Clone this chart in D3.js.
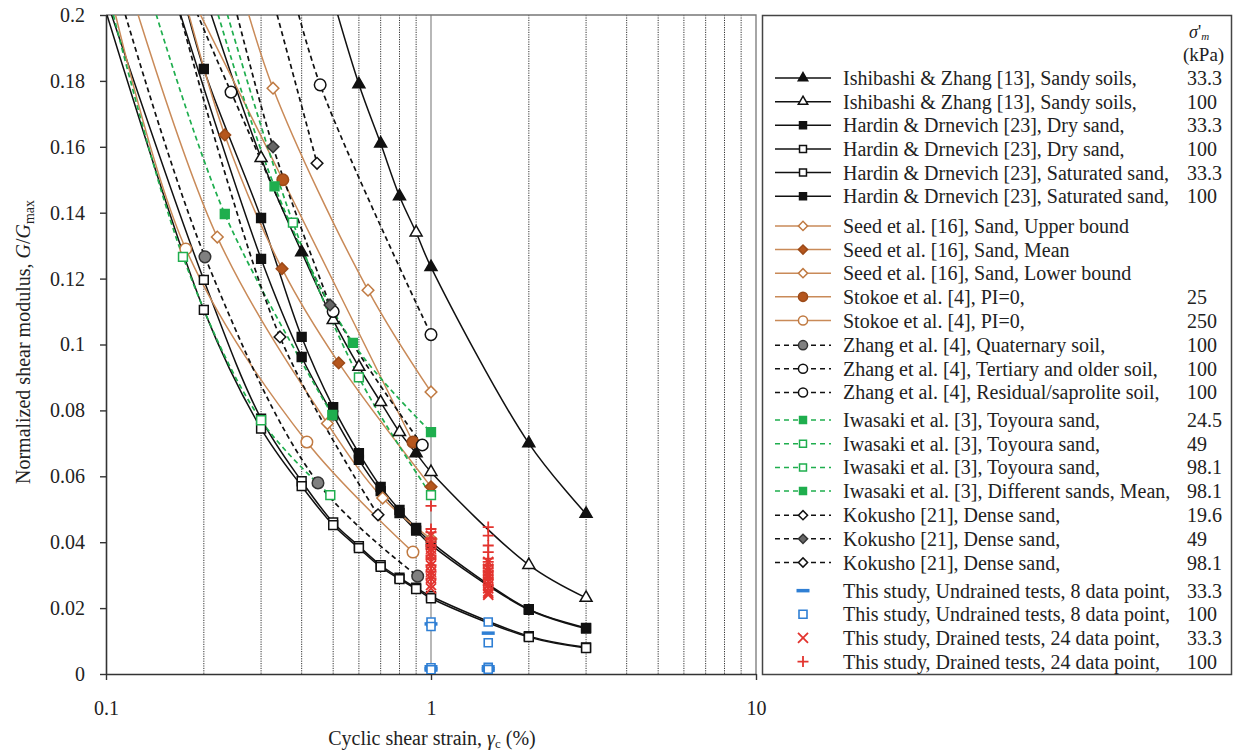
<!DOCTYPE html>
<html><head><meta charset="utf-8">
<script src="https://cdn.jsdelivr.net/npm/d3@7"></script>
<style>
body{margin:0;background:#fff}
svg{display:block}
text{font-family:"Liberation Serif","Times New Roman",serif;fill:#222}
</style>
</head><body>
<svg id="c" width="1234" height="753"></svg>
<script>
// ---------------- DATA (strain %, G/Gmax) ----------------
const ishi33X=[0.467,0.6,0.7,0.8,0.9,1,2,3];
const ishi33G=[0.215,0.179,0.161,0.145,0.134,0.1235,0.070,0.0486];
const ishi33Toggle=[0.9];
const ishi100X=[0.188,0.3,0.4,0.5,0.6,0.7,0.8,0.9,1,2,3];
const ishi100G=[0.215,0.1566,0.128,0.1074,0.0932,0.0825,0.0734,0.067,0.0613,0.0331,0.0231];
const ishi100Toggle=[0.4,0.9];
const hdDry33X=[0.164,0.2,0.3,0.4,0.5,0.6,0.7,0.8,0.9,1,2,3];
const hdDry33G=[0.215,0.1836,0.1384,0.1023,0.081,0.067,0.0568,0.0498,0.0443,0.040,0.0197,0.014];
const hdDry100X=[0.0925,0.2,0.3,0.4,0.5,0.6,0.7,0.8,0.9,1,2,3];
const hdDry100G=[0.215,0.1196,0.0775,0.0585,0.046,0.0388,0.033,0.0292,0.0262,0.0236,0.0115,0.0081];
const hdSat33X=[0.0906,0.2,0.3,0.4,0.5,0.6,0.7,0.8,0.9,1,2,3];
const hdSat33G=[0.215,0.1105,0.0745,0.057,0.0452,0.0382,0.0325,0.0288,0.0258,0.023,0.0112,0.0079];
const hdSat100X=[0.152,0.3,0.4,0.5,0.6,0.7,0.8,0.9,1,2,3];
const hdSat100G=[0.215,0.126,0.0962,0.0785,0.065,0.0555,0.0488,0.0435,0.0392,0.0195,0.0138];
const seedUX=[0.249,0.3265,0.64,1];
const seedUG=[0.215,0.1778,0.1165,0.0856];
const seedMX=[0.164,0.232,0.348,0.52,1];
const seedMG=[0.215,0.1636,0.123,0.0944,0.0568];
const seedLX=[0.1128,0.22,0.48,0.71,1];
const seedLG=[0.215,0.1326,0.076,0.0534,0.041];
const stokoe25X=[0.164,0.35,0.88];
const stokoe25G=[0.215,0.150,0.0704];
const stokoe250X=[0.0986,0.176,0.415,0.88];
const stokoe250G=[0.215,0.129,0.0704,0.037];
const zhangQX=[0.1036,0.2016,0.449,0.91];
const zhangQG=[0.215,0.1266,0.058,0.0297];
const zhangTX=[0.1654,0.2425,0.5,0.94];
const zhangTG=[0.215,0.1766,0.110,0.0695];
const zhangRX=[0.358,0.456,1];
const zhangRG=[0.215,0.1788,0.103];
const iwa245X=[0.1286,0.232,0.497];
const iwa245G=[0.215,0.1396,0.0786];
const iwa49X=[0.0965,0.1725,0.3,0.49];
const iwa49G=[0.215,0.1266,0.077,0.0543];
const iwa981X=[0.2135,0.376,0.6,1];
const iwa981G=[0.215,0.137,0.090,0.0543];
const iwaMeanX=[0.2,0.33,0.575,1];
const iwaMeanG=[0.215,0.148,0.1005,0.0734];
const kok196X=[0.154,0.343,0.687];
const kok196G=[0.215,0.1023,0.0483];
const kok49X=[0.232,0.3265,0.489];
const kok49G=[0.215,0.160,0.112];
const kok981X=[0.306,0.446];
const kok981G=[0.215,0.155];
// This study
const undr33X=[1,1,1,1,1.5,1.5,1.5,1.5];
const undr33G=[0.0152,0.0022,0.0016,0.0012,0.0124,0.0022,0.0016,0.0011];
const undr100X=[1,1,1,1,1.5,1.5,1.5,1.5];
const undr100G=[0.0158,0.0144,0.0019,0.0013,0.0158,0.0095,0.0020,0.0014];
const dr33X=[1,1,1,1,1,1,1,1,1,1,1,1,1.5,1.5,1.5,1.5,1.5,1.5,1.5,1.5,1.5,1.5,1.5,1.5];
const dr33G=[0.042,0.040,0.038,0.037,0.036,0.034,0.033,0.031,0.030,0.029,0.027,0.026,
             0.034,0.032,0.031,0.030,0.029,0.028,0.027,0.026,0.025,0.0245,0.024,0.030];
const dr100X=[1,1,1,1,1,1,1,1,1,1,1,1,1.5,1.5,1.5,1.5,1.5,1.5,1.5,1.5,1.5,1.5,1.5,1.5];
const dr100G=[0.051,0.044,0.043,0.041,0.040,0.039,0.038,0.036,0.035,0.033,0.031,0.029,
              0.0446,0.042,0.039,0.037,0.035,0.034,0.033,0.032,0.031,0.030,0.029,0.027];
// ticks
const yTicks=[0,0.02,0.04,0.06,0.08,0.1,0.12,0.14,0.16,0.18,0.2];
const yTickLabels=["0","0.02","0.04","0.06","0.08","0.1","0.12","0.14","0.16","0.18","0.2"];
const xTicks=[0.1,1,10];
const xTickLabels=["0.1","1","10"];
const gridStrains=[0.2,0.3,0.4,0.5,0.6,0.7,0.8,0.9,2,3,4,5,6,7,8,9];

// ---------------- STYLES ----------------
const BLK="#111", BRL="#c98a58", BRF="#b5561d", GRN="#1fae4e", GRY="#808080", BLU="#2f7fd4", RED="#e3342f";
const series=[
 {t:"Ishibashi & Zhang [13], Sandy soils,",p:"33.3",xs:ishi33X,ys:ishi33G,sym:"tri",filled:true,mc:BLK,fc:BLK,lc:BLK,dash:null,tog:ishi33Toggle,g:0},
 {t:"Ishibashi & Zhang [13], Sandy soils,",p:"100",xs:ishi100X,ys:ishi100G,sym:"tri",filled:false,mc:BLK,fc:BLK,lc:BLK,dash:null,tog:ishi100Toggle,g:0},
 {t:"Hardin & Drnevich [23], Dry sand,",p:"33.3",xs:hdDry33X,ys:hdDry33G,sym:"sq",filled:true,mc:BLK,fc:BLK,lc:BLK,dash:null,g:0},
 {t:"Hardin & Drnevich [23], Dry sand,",p:"100",xs:hdDry100X,ys:hdDry100G,sym:"sq",filled:false,mc:BLK,fc:BLK,lc:BLK,dash:null,g:0},
 {t:"Hardin & Drnevich [23], Saturated sand,",p:"33.3",xs:hdSat33X,ys:hdSat33G,sym:"sq",filled:false,mc:BLK,fc:BLK,lc:BLK,dash:null,g:0},
 {t:"Hardin & Drnevich [23], Saturated sand,",p:"100",xs:hdSat100X,ys:hdSat100G,sym:"sq",filled:true,mc:BLK,fc:BLK,lc:BLK,dash:null,g:0},
 {t:"Seed et al. [16], Sand, Upper bound",p:"",xs:seedUX,ys:seedUG,sym:"dia",filled:false,mc:"#c07a42",fc:BRF,lc:BRL,dash:null,g:1},
 {t:"Seed et al. [16], Sand, Mean",p:"",xs:seedMX,ys:seedMG,sym:"dia",filled:true,mc:"#9c4a18",fc:BRF,lc:BRL,dash:null,g:1},
 {t:"Seed et al. [16], Sand, Lower bound",p:"",xs:seedLX,ys:seedLG,sym:"dia",filled:false,mc:"#c07a42",fc:BRF,lc:BRL,dash:null,g:1},
 {t:"Stokoe et al. [4], PI=0,",p:"25",xs:stokoe25X,ys:stokoe25G,sym:"cir",filled:true,mc:"#9c4a18",fc:BRF,lc:BRL,dash:null,g:1},
 {t:"Stokoe et al. [4], PI=0,",p:"250",xs:stokoe250X,ys:stokoe250G,sym:"cir",filled:false,mc:"#c07a42",fc:BRF,lc:BRL,dash:null,g:1},
 {t:"Zhang et al. [4], Quaternary soil,",p:"100",xs:zhangQX,ys:zhangQG,sym:"cir",filled:true,mc:"#333",fc:GRY,lc:BLK,dash:"5,3.5",g:2},
 {t:"Zhang et al. [4], Tertiary and older soil,",p:"100",xs:zhangTX,ys:zhangTG,sym:"cir",filled:false,mc:BLK,fc:BLK,lc:BLK,dash:"5,3.5",g:2},
 {t:"Zhang et al. [4], Residual/saprolite soil,",p:"100",xs:zhangRX,ys:zhangRG,sym:"cir",filled:false,mc:BLK,fc:BLK,lc:BLK,dash:"5,3.5",g:2},
 {t:"Iwasaki et al. [3], Toyoura sand,",p:"24.5",xs:iwa245X,ys:iwa245G,sym:"sq",filled:true,mc:GRN,fc:GRN,lc:GRN,dash:"5,3.5",g:3},
 {t:"Iwasaki et al. [3], Toyoura sand,",p:"49",xs:iwa49X,ys:iwa49G,sym:"sq",filled:false,mc:GRN,fc:GRN,lc:GRN,dash:"5,3.5",g:3},
 {t:"Iwasaki et al. [3], Toyoura sand,",p:"98.1",xs:iwa981X,ys:iwa981G,sym:"sq",filled:false,mc:GRN,fc:GRN,lc:GRN,dash:"5,3.5",g:3},
 {t:"Iwasaki et al. [3], Different sands, Mean,",p:"98.1",xs:iwaMeanX,ys:iwaMeanG,sym:"sq",filled:true,mc:GRN,fc:GRN,lc:GRN,dash:"5,3.5",g:3},
 {t:"Kokusho [21], Dense sand,",p:"19.6",xs:kok196X,ys:kok196G,sym:"dia",filled:false,mc:BLK,fc:BLK,lc:BLK,dash:"5,3.5",g:4},
 {t:"Kokusho [21], Dense sand,",p:"49",xs:kok49X,ys:kok49G,sym:"dia",filled:true,mc:"#333",fc:"#666",lc:BLK,dash:"5,3.5",g:4},
 {t:"Kokusho [21], Dense sand,",p:"98.1",xs:kok981X,ys:kok981G,sym:"dia",filled:false,mc:BLK,fc:BLK,lc:BLK,dash:"5,3.5",g:4}
];
const study=[
 {t:"This study, Undrained tests, 8 data point,",p:"33.3",xs:undr33X,ys:undr33G,sym:"dash",c:BLU,g:5},
 {t:"This study, Undrained tests, 8 data point,",p:"100",xs:undr100X,ys:undr100G,sym:"osq",c:BLU,g:5},
 {t:"This study, Drained tests, 24 data point,",p:"33.3",xs:dr33X,ys:dr33G,sym:"x",c:RED,g:5},
 {t:"This study, Drained tests, 24 data point,",p:"100",xs:dr100X,ys:dr100G,sym:"plus",c:RED,g:5}
];

// ---------------- CHART ----------------
const svg=d3.select("#c");
const L=106,R=756,T=15,B=674;
const x=d3.scaleLog().domain([0.1,10]).range([L,R]);
const y=d3.scaleLinear().domain([0,0.2]).range([B,T]);
svg.append("defs").append("clipPath").attr("id","pc")
  .append("rect").attr("x",L).attr("y",T).attr("width",R-L).attr("height",B-T);

// grid
svg.append("g").selectAll("line").data(gridStrains).join("line")
  .attr("x1",d=>x(d)).attr("x2",d=>x(d)).attr("y1",T).attr("y2",B)
  .attr("stroke","#333").attr("stroke-width",1).attr("stroke-dasharray","1.2,1.2");
svg.append("line").attr("x1",x(1)).attr("x2",x(1)).attr("y1",T).attr("y2",B)
  .attr("stroke","#888").attr("stroke-width",1.2);
// frame top/right
svg.append("path").attr("d",`M${L},${T}H${R}V${B}`).attr("fill","none").attr("stroke","#777").attr("stroke-width",1.3);

// axes
const ya=svg.append("g").attr("transform",`translate(${L},0)`)
  .call(d3.axisLeft(y).tickValues(yTicks).tickFormat((d,i)=>yTickLabels[i]).tickSize(6).tickSizeOuter(0).tickPadding(15));
const xa=svg.append("g").attr("transform",`translate(0,${B})`)
  .call(d3.axisBottom(x).tickValues(xTicks).tickFormat((d,i)=>xTickLabels[i]).tickSize(6).tickSizeOuter(0).tickPadding(21));
[ya,xa].forEach(a=>{
  a.select(".domain").attr("stroke","#333").attr("stroke-width",1.6);
  a.selectAll(".tick line").attr("stroke","#333").attr("stroke-width",1.4);
  a.selectAll(".tick text").attr("font-size",20).attr("font-family","Liberation Serif").attr("fill","#333");
});

// axis titles
const yt=svg.append("text").attr("transform","translate(30,342) rotate(-90)").attr("text-anchor","middle").attr("font-size",20);
yt.append("tspan").text("Normalized shear modulus, ");
yt.append("tspan").attr("font-style","italic").text("G");
yt.append("tspan").text("/");
yt.append("tspan").attr("font-style","italic").text("G");
yt.append("tspan").attr("font-size",14).attr("dy",4).text("max");
const xt=svg.append("text").attr("x",432).attr("y",745).attr("text-anchor","middle").attr("font-size",20);
xt.append("tspan").text("Cyclic shear strain, ");
xt.append("tspan").attr("font-style","italic").text("γ");
xt.append("tspan").attr("font-size",13).attr("dy",3).text("c");
xt.append("tspan").attr("dy",-3).text(" (%)");

// symbol helpers
function symPath(sym,k){
  if(sym==="tri") return d3.symbol(d3.symbolTriangle,62*k)();
  if(sym==="sq") return d3.symbol(d3.symbolSquare,78*k)();
  if(sym==="cir") return d3.symbol(d3.symbolCircle,105*k)();
  if(sym==="dia") return d3.symbol(d3.symbolSquare,68*k)();
  return "";
}
function drawMarker(g,s,px,py,k,filled){
  g.append("path").attr("d",symPath(s.sym,k))
    .attr("transform",`translate(${px},${py})`+(s.sym==="dia"?" rotate(45)":""))
    .attr("fill",filled?s.fc:"#fff").attr("stroke",s.mc).attr("stroke-width",1.5);
}
function drawStudy(g,s,px,py){
  let d="";
  if(s.sym==="dash") d="M-6.5,0H6.5";
  if(s.sym==="osq") d="M-4,-4H4V4H-4Z";
  if(s.sym==="x") d="M-5,-5L5,5M-5,5L5,-5";
  if(s.sym==="plus") d="M-5.5,0H5.5M0,-5.5V5.5";
  g.append("path").attr("d",d).attr("transform",`translate(${px},${py})`)
   .attr("fill",s.sym==="osq"?"#fff":"none").attr("stroke",s.c)
   .attr("stroke-width",s.sym==="dash"?3.5:(s.sym==="osq"?1.6:1.8));
}

const plot=svg.append("g").attr("clip-path","url(#pc)");
const line=d3.line().x(d=>x(d[0])).y(d=>y(d[1])).curve(d3.curveCatmullRom.alpha(0.5));
series.forEach(s=>{
  const pts=s.xs.map((v,i)=>[v,s.ys[i]]);
  plot.append("path").attr("d",line(pts)).attr("fill","none").attr("stroke",s.lc)
    .attr("stroke-width",s.dash?1.7:1.5).attr("stroke-dasharray",s.dash);
});
series.forEach(s=>{
  s.xs.forEach((v,i)=>{
    const tog=(s.tog||[]).includes(v);
    drawMarker(plot,s,x(v),y(s.ys[i]),1,tog?!s.filled:s.filled);
  });
});
study.forEach(s=>{
  s.xs.forEach((v,i)=>drawStudy(plot,s,x(v),y(s.ys[i])));
});

// ---------------- LEGEND ----------------
svg.append("rect").attr("x",762.5).attr("y",15.5).attr("width",469).attr("height",659)
  .attr("fill","none").attr("stroke","#444").attr("stroke-width",1.5);
const hd=svg.append("text").attr("x",1189).attr("y",38).attr("font-size",18);
hd.append("tspan").attr("font-style","italic").text("σ");
hd.append("tspan").text("'");
hd.append("tspan").attr("font-style","italic").attr("font-size",11).attr("dy",2).text("m");
svg.append("text").attr("x",1183).attr("y",61).attr("font-size",19).text("(kPa)");
const gapExtra=[0,6,7,11,11.5,16];
const lg=svg.append("g");
series.concat(study).forEach((s,i)=>{
  const ry=78+i*23.65+gapExtra[s.g];
  if(s.sym==="dash"||s.sym==="osq"||s.sym==="x"||s.sym==="plus"){
    drawStudy(lg,s,803,ry);
  } else {
    lg.append("line").attr("x1",775).attr("x2",831).attr("y1",ry).attr("y2",ry)
      .attr("stroke",s.lc).attr("stroke-width",1.5).attr("stroke-dasharray",s.dash?"5,4":null);
    drawMarker(lg,s,803,ry,0.62,s.filled);
  }
  lg.append("text").attr("x",843).attr("y",ry+7).attr("font-size",20).text(s.t);
  lg.append("text").attr("x",1187).attr("y",ry+7).attr("font-size",20).text(s.p);
});
</script>
</body></html>
